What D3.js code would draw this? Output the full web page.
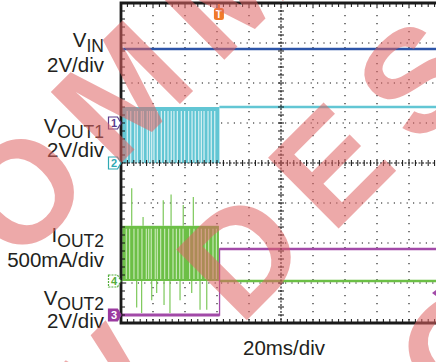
<!DOCTYPE html>
<html>
<head>
<meta charset="utf-8">
<script src="https://cdn.jsdelivr.net/npm/d3@7"></script>
<style>
body { margin: 0; background: #fff; }
svg { display: block; font-family: "Liberation Sans", Arial, sans-serif; }
</style>
</head>
<body>
<div id="scope"></div>
<script>
// scope settings: 20ms/div over 10 divisions, 8 vertical divisions
var timeDomain = [0, 200];
var divDomain = [0, 8];
var triggerT = 61.2;

// channels: 1 = VIN, 2 = VOUT1, 4 = IOUT2, 3 = VOUT2
var channelIds = ["1", "2", "4", "3"];
var unitsPerDiv = [2, 2, 0.5, 2];
var groundDiv = [5, 4, 1.05, 0.2];
var labelMain = ["V", "V", "I", "V"];
var labelSub = ["IN", "OUT1", "OUT2", "OUT2"];
var labelScale = ["2V/div", "2V/div", "500mA/div", "2V/div"];

// VIN (V)
var vinT = [0, 200];
var vinV = [3.7, 3.7];

// VOUT1 (V): switching burst until ~61ms, then steady
var vout1Burst = [0.8, 61.5];
var vout1High = 2.8;
var vout1Gaps = [3.9, 6.1, 8.6, 10.2, 12.7, 13.9, 16.4, 17.9, 19.2, 20.6, 22.7, 25.2, 27.3,
                 29.4, 31.4, 33.1, 35.2, 37.7, 39.8, 42.3, 44.4, 46.4, 48.6, 50.2, 51.9, 54.4, 56.4, 58.6];
var vout1T = [61.5, 200];
var vout1V = [2.8, 2.8];

// IOUT2 (A)
var iout2Burst = [0.8, 61.2];
var iout2High = 0.69;
var iout2Gaps = [3.3, 5.4, 8.1, 10.6, 13.1, 15.8, 17.3, 18.9, 21.4, 22.7, 24.8, 27.3, 29.8,
                 32.5, 34.6, 36.7, 38.8, 42.9, 45.6, 48.1, 50.2, 52.7, 54.8, 57.5, 59.6];
var spikeT = [6.7, 13.8, 26.4, 31.3, 38.9, 45.2, 9.8, 12.9, 19.2, 22.3, 26.9, 30.6, 36.9, 44.2, 49.4, 53.6];
var spikeA = [1.16, 0.8, 1.01, 1.08, 0.95, 1.05, -0.33, -0.4, -0.24, -0.15, -0.3, -0.4, -0.24, -0.15, -0.36, -0.36];
var iout2T = [61.2, 200];
var iout2V = [0, 0];

// VOUT2 (V)
var vout2T = [0, 61.6, 61.6, 200];
var vout2V = [0, 0, 3.3, 3.3];

var W = 436, H = 362;
var plot = {left: 121, top: 3, width: 320, height: 320};

var svg = d3.select("#scope").append("svg")
    .attr("width", W)
    .attr("height", H);

var x = d3.scaleLinear().domain(timeDomain).range([plot.left, plot.left + plot.width]);
var yDiv = d3.scaleLinear().domain(divDomain).range([plot.top + plot.height, plot.top]);
function yCh(i, v) { return yDiv(groundDiv[i] + v / unitsPerDiv[i]); }

var colors = ["#2c54a8", "#62c6d4", "#6cbf46", "#a24aa8"];

// grid
var grid = svg.append("g");
d3.range(1, 10).filter(function(d) { return d !== 5; }).forEach(function(d) {
  var gx = plot.left + d * 32;
  grid.append("line")
      .attr("x1", gx).attr("x2", gx)
      .attr("y1", plot.top + 4).attr("y2", plot.top + plot.height)
      .attr("stroke", "#111").attr("stroke-width", 1.1)
      .attr("stroke-dasharray", "1.2 6.8");
});
d3.range(1, 8).filter(function(d) { return d !== 4; }).forEach(function(d) {
  var gy = yDiv(d);
  grid.append("line")
      .attr("x1", plot.left + 4).attr("x2", W)
      .attr("y1", gy).attr("y2", gy)
      .attr("stroke", "#111").attr("stroke-width", 1.1)
      .attr("stroke-dasharray", "1.2 5.2");
});

// traces
var traces = svg.append("g");
var line = d3.line();

traces.append("path")
    .attr("d", line(vinT.map(function(t, k) { return [x(t), yCh(0, vinV[k])]; })))
    .attr("fill", "none").attr("stroke", colors[0]).attr("stroke-width", 2.6);

// VOUT1 burst
traces.append("rect")
    .attr("x", x(vout1Burst[0])).attr("width", x(vout1Burst[1]) - x(vout1Burst[0]))
    .attr("y", yCh(1, vout1High)).attr("height", yCh(1, 0) - yCh(1, vout1High))
    .attr("fill", colors[1]);
traces.selectAll(".gap1").data(vout1Gaps).enter().append("line")
    .attr("x1", function(d) { return x(d); }).attr("x2", function(d) { return x(d); })
    .attr("y1", yCh(1, vout1High) + 4).attr("y2", yCh(1, 0))
    .attr("stroke", "#e4f5f7").attr("stroke-width", 1.1);
traces.append("path")
    .attr("d", line(vout1T.map(function(t, k) { return [x(t), yCh(1, vout1V[k])]; })))
    .attr("fill", "none").attr("stroke", colors[1]).attr("stroke-width", 2.4);

// IOUT2 burst
traces.selectAll(".spike").data(spikeT).enter().append("line")
    .attr("x1", function(d) { return x(d); }).attr("x2", function(d) { return x(d); })
    .attr("y1", function(d, k) { return spikeA[k] > 0 ? yCh(2, iout2High) : yCh(2, 0); })
    .attr("y2", function(d, k) { return yCh(2, spikeA[k]); })
    .attr("stroke", "#7cc85a").attr("stroke-width", 1.2);
traces.append("rect")
    .attr("x", x(iout2Burst[0])).attr("width", x(iout2Burst[1]) - x(iout2Burst[0]))
    .attr("y", yCh(2, iout2High)).attr("height", yCh(2, 0) - yCh(2, iout2High))
    .attr("fill", colors[2]);
traces.selectAll(".gap2").data(iout2Gaps).enter().append("line")
    .attr("x1", function(d) { return x(d); }).attr("x2", function(d) { return x(d); })
    .attr("y1", yCh(2, iout2High) + 3).attr("y2", yCh(2, 0) - 2)
    .attr("stroke", "#cdebbd").attr("stroke-width", 1.1);
traces.append("path")
    .attr("d", line(iout2T.map(function(t, k) { return [x(t), yCh(2, iout2V[k])]; })))
    .attr("fill", "none").attr("stroke", colors[2]).attr("stroke-width", 2.6);

// VOUT2: thin step edge, thicker flat parts
var vout2Pts = vout2T.map(function(t, k) { return [x(t), yCh(3, vout2V[k])]; });
traces.append("path")
    .attr("d", line(vout2Pts))
    .attr("fill", "none").attr("stroke", colors[3]).attr("stroke-width", 1.3);
for (var k = 1; k < vout2Pts.length; k++) {
  if (vout2V[k] === vout2V[k - 1]) {
    traces.append("path")
        .attr("d", line([vout2Pts[k - 1], vout2Pts[k]]))
        .attr("fill", "none").attr("stroke", colors[3]).attr("stroke-width", k === 1 ? 3 : 2.4);
  }
}

// centre axes with minor ticks
var axes = svg.append("g").attr("stroke", "#111");
var cx = x(100), cy = yDiv(4);
axes.append("line").attr("x1", cx).attr("x2", cx).attr("y1", plot.top).attr("y2", plot.top + plot.height)
    .attr("stroke-width", 1.1).attr("stroke-dasharray", "2 1.5");
axes.append("line").attr("x1", plot.left).attr("x2", W).attr("y1", cy).attr("y2", cy)
    .attr("stroke-width", 1.1).attr("stroke-dasharray", "2 1.5");
d3.range(0, 41).forEach(function(k) {
  var ty = plot.top + k * 8;
  axes.append("line").attr("x1", cx - 3).attr("x2", cx + 3).attr("y1", ty).attr("y2", ty).attr("stroke-width", 1);
  axes.append("line").attr("x1", plot.left).attr("x2", plot.left + 4).attr("y1", ty).attr("y2", ty).attr("stroke-width", 1);
});
d3.range(0, 51).forEach(function(k) {
  var tx = plot.left + k * 6.4;
  axes.append("line").attr("x1", tx).attr("x2", tx).attr("y1", cy - 3).attr("y2", cy + 3).attr("stroke-width", 1);
  axes.append("line").attr("x1", tx).attr("x2", tx).attr("y1", plot.top + plot.height - 4).attr("y2", plot.top + plot.height).attr("stroke-width", 1);
  axes.append("line").attr("x1", tx).attr("x2", tx).attr("y1", plot.top).attr("y2", plot.top + 4).attr("stroke-width", 1);
});

// frame
svg.append("path")
    .attr("d", "M" + W + "," + plot.top + "H" + plot.left + "V" + (plot.top + plot.height) + "H" + W)
    .attr("fill", "none").attr("stroke", "#1a1a1a").attr("stroke-width", 2.8);

// channel markers
var markerStyle = [
  {stroke: "#5a3c8c", fill: "#fff", text: "#5a3c8c", dash: null},
  {stroke: "#2fa9b3", fill: "#fff", text: "#2fa9b3", dash: null},
  {stroke: "#55ad3c", fill: "#fff", text: "#55ad3c", dash: "2 1"},
  {stroke: "#9b3aa0", fill: "#9b3aa0", text: "#fff", dash: null}
];
channelIds.forEach(function(id, i) {
  var my = yCh(i, 0), s = markerStyle[i];
  var g = svg.append("g");
  g.append("path")
      .attr("d", "M108.5," + (my - 6) + "H117.5L121," + my + "L117.5," + (my + 6) + "H108.5Z")
      .attr("fill", s.fill).attr("stroke", s.stroke).attr("stroke-width", 1.2)
      .attr("stroke-dasharray", s.dash);
  g.append("text")
      .attr("x", 114).attr("y", my + 4)
      .attr("text-anchor", "middle")
      .attr("font-size", 11).attr("font-weight", "bold")
      .attr("fill", s.text)
      .text(id);
});

// right-edge reference marker
svg.append("path")
    .attr("d", "M436," + (yCh(3, 0) - 25) + "l-4,3l4,3Z")
    .attr("fill", colors[3]);

// trigger marker
var tg = svg.append("g");
var tx0 = x(triggerT);
tg.append("rect").attr("x", tx0 - 1).attr("y", plot.top + 1).attr("width", 2).attr("height", 5).attr("fill", "#f07a2a");
tg.append("rect").attr("x", tx0 - 5).attr("y", plot.top + 5).attr("width", 10).attr("height", 12).attr("rx", 2.5).attr("fill", "#f07a2a");
tg.append("text").attr("x", tx0).attr("y", plot.top + 15).attr("text-anchor", "middle")
    .attr("font-size", 10).attr("font-weight", "bold").attr("fill", "#fff").text("T");

// labels
var labelY = [47, 133, 242, 305];
var scaleY = [72, 157, 267, 328];
labelMain.forEach(function(m, i) {
  var t = svg.append("text")
      .attr("x", 104).attr("y", labelY[i])
      .attr("text-anchor", "end")
      .attr("font-size", 20.5).attr("fill", "#231f20");
  t.append("tspan").text(m);
  t.append("tspan").attr("dy", 5).attr("font-size", 17.5).text(labelSub[i]);
  svg.append("text")
      .attr("x", 104).attr("y", scaleY[i])
      .attr("text-anchor", "end")
      .attr("font-size", 20.5).attr("fill", "#231f20")
      .text(labelScale[i]);
});
svg.append("text")
    .attr("x", cx + 3).attr("y", 355)
    .attr("text-anchor", "middle")
    .attr("font-size", 20.5).attr("fill", "#231f20")
    .text("20ms/div");

// NRND watermark
var wm = svg.append("g").attr("fill", "#e06464").attr("opacity", 0.55);
function placeLine(str, idx, bx, by) {
  var t = wm.append("text").text(str)
      .attr("font-size", 145).attr("font-weight", "bold")
      .style("letter-spacing", "25px");
  var off = idx > 0 ? t.node().getSubStringLength(0, idx) : 0;
  t.attr("transform", "translate(" + bx + "," + by + ") rotate(-45) translate(" + (-off) + ",0)");
}
placeLine("NOT RECOMMENDED", 7, 17, 267);
placeLine("FOR NEW DESIGNS", 8, 240, 327);
placeLine("FOR NEW DESIGNS", 1, 457, 422);
</script>
</body>
</html>
